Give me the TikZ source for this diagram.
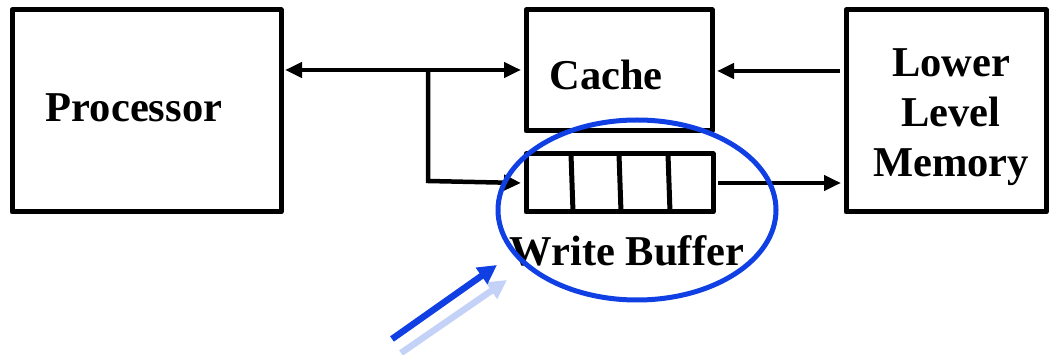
\documentclass[tikz,border=0pt]{standalone}
\usepackage{fontspec}
\setmainfont{Liberation Serif}
\usetikzlibrary{arrows.meta}
\definecolor{hb}{RGB}{16,64,228}
\definecolor{lb}{RGB}{196,210,248}
\tikzset{
  box/.style={draw, line width=5pt, line join=round},
  lbl/.style={font=\fontsize{42.5}{50}\selectfont\bfseries, align=center},
  conn/.style={line width=4.5pt, -{Triangle[length=17pt,width=15pt]}},
  pt/.style={line width=6.5pt, -{Triangle[length=19pt,width=19pt]}}
}
\begin{document}
\begin{tikzpicture}[x=1pt,y=-1pt]
\useasboundingbox (0,0) rectangle (1050,355);
% boxes
\draw[box] (12,10) rectangle (281,212);
\node[lbl] (proc) at (134,108) {Processor};
\coordinate (procR) at (281,70);
\draw[box] (526,10) rectangle (712,131);
\node[lbl] (cache) at (606,75) {Cache};
\coordinate (cacheL) at (526,70);
\coordinate (cacheR) at (712,71);
\draw[box] (846,10) rectangle (1046,212);
\node[lbl] (mem) at (951,117) {Lower\\Level\\Memory};
\coordinate (memL) at (846,71);
\coordinate (memL2) at (846,183);
% write buffer
\draw[box] (526,154) rectangle (713,212);
\draw[line width=5pt] (571,154) -- (573,212);
\draw[line width=5pt] (619,154) -- (621,212);
\draw[line width=5pt] (668,154) -- (670,212);
\coordinate (wbL) at (526,183);
\coordinate (wbR) at (713,183);
\node[lbl] (wb) at (627,251) {Write Buffer};
% connectors
\coordinate (br) at (428,70);
\draw[conn, {Triangle[length=17pt,width=15pt]}-{Triangle[length=17pt,width=15pt]}] ([xshift=4pt]procR) -- ([xshift=-5pt]cacheL);
\draw[line width=4.5pt, line join=miter, -{Triangle[length=17pt,width=15pt]}] (br) -- (428,181) -- ([xshift=-5pt]wbL);
\draw[conn] ([xshift=-6pt]memL) -- ([xshift=5pt]cacheR);
\draw[conn] ([xshift=5pt]wbR) -- ([xshift=-5pt]memL2);
% highlight
\draw[hb, line width=5pt] (637,210) ellipse (139pt and 90pt);
\coordinate (a1) at (392,339);
\coordinate (a1e) at (497,265);
\coordinate (a2) at (401,353);
\coordinate (a2e) at (507,280);
\draw[pt, lb] (a2) -- (a2e);
\draw[pt, hb] (a1) -- (a1e);
\end{tikzpicture}
\end{document}
